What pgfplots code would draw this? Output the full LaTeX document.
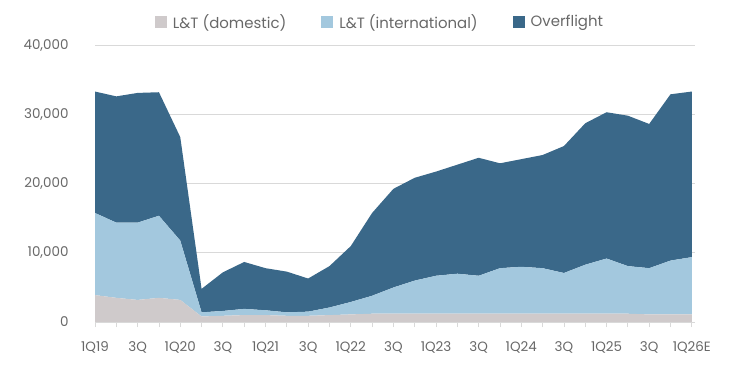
\documentclass[border=0pt]{standalone}
\usepackage{fontspec}
\setmainfont{Poppins}
\usepackage{pgfplots}
\usepackage{pgfplotstable}
\pgfplotsset{compat=1.18}
\definecolor{cdom}{HTML}{CFCACB}
\definecolor{cintl}{HTML}{A3C8DE}
\definecolor{covf}{HTML}{3A6889}
\definecolor{ctxt}{HTML}{686868}
\definecolor{cgrid}{HTML}{D9D9D9}
\pgfplotstableread{
x dom intl ovf
0 3900 11900 17600
1 3500 10900 18300
2 3200 11200 18800
3 3500 11900 17900
4 3200 8600 15000
5 800 600 3400
6 900 700 5600
7 1000 900 6800
8 1000 700 6100
9 900 500 5900
10 900 600 4800
11 1000 1100 6000
12 1100 1800 8100
13 1200 2600 12000
14 1200 3800 14300
15 1200 4800 14900
16 1200 5500 15100
17 1200 5800 15800
18 1200 5500 17100
19 1200 6600 15200
20 1200 6800 15600
21 1200 6600 16400
22 1200 5900 18400
23 1200 7100 20500
24 1200 8000 21200
25 1200 6900 21800
26 1100 6700 20900
27 1100 7800 24100
28 1100 8300 24000
}\datatable
\begin{document}
\begin{tikzpicture}
\useasboundingbox (0,0) rectangle (739bp,369bp);
\begin{axis}[
  at={(95bp,47bp)}, anchor=south west,
  scale only axis, width=600bp, height=276bp,
  xmin=0, xmax=28.15, ymin=0, ymax=40000,
  stack plots=y,
  axis line style={draw=none},
  xtick={0,...,28},
  xticklabels={1Q19,,3Q,,1Q20,,3Q,,1Q21,,3Q,,1Q22,,3Q,,1Q23,,3Q,,1Q24,,3Q,,1Q25,,3Q,,1Q26E},
  xtick pos=bottom, xtick align=outside,
  x tick style={draw=cgrid, line width=0.8bp},
  major tick length=5bp,
  ytick={0,10000,20000,30000,40000},
  y tick style={draw=none},
  ymajorgrids, grid style={draw=cgrid, line width=1bp},
  scaled y ticks=false,
  /pgf/number format/.cd, 1000 sep={,}, assume math mode=true,
  /pgfplots/.cd,
  tick label style={font=\fontsize{13.5}{16}\selectfont, text=ctxt},
  yticklabel style={xshift=-23bp},
  xticklabel style={yshift=-11bp},
  legend style={at={(axis description cs:0.475,1.087)}, anchor=center, draw=none, fill=none,
    font=\fontsize{15}{17}\selectfont, text=ctxt, legend columns=3,
    /tikz/every even column/.append style={column sep=33bp}},
  legend image code/.code={\fill[#1] (0bp,-6bp) rectangle (12bp,6bp); \path (0bp,0bp) (16bp,0bp);},
]
\addplot[fill=cdom, draw=none] table[x=x,y=dom]{\datatable} \closedcycle;
\addplot[fill=cintl, draw=none] table[x=x,y=intl]{\datatable} \closedcycle;
\addplot[fill=covf, draw=none] table[x=x,y=ovf]{\datatable} \closedcycle;
\legend{L\&T (domestic), L\&T (international), Overflight}
\end{axis}
\end{tikzpicture}
\end{document}
